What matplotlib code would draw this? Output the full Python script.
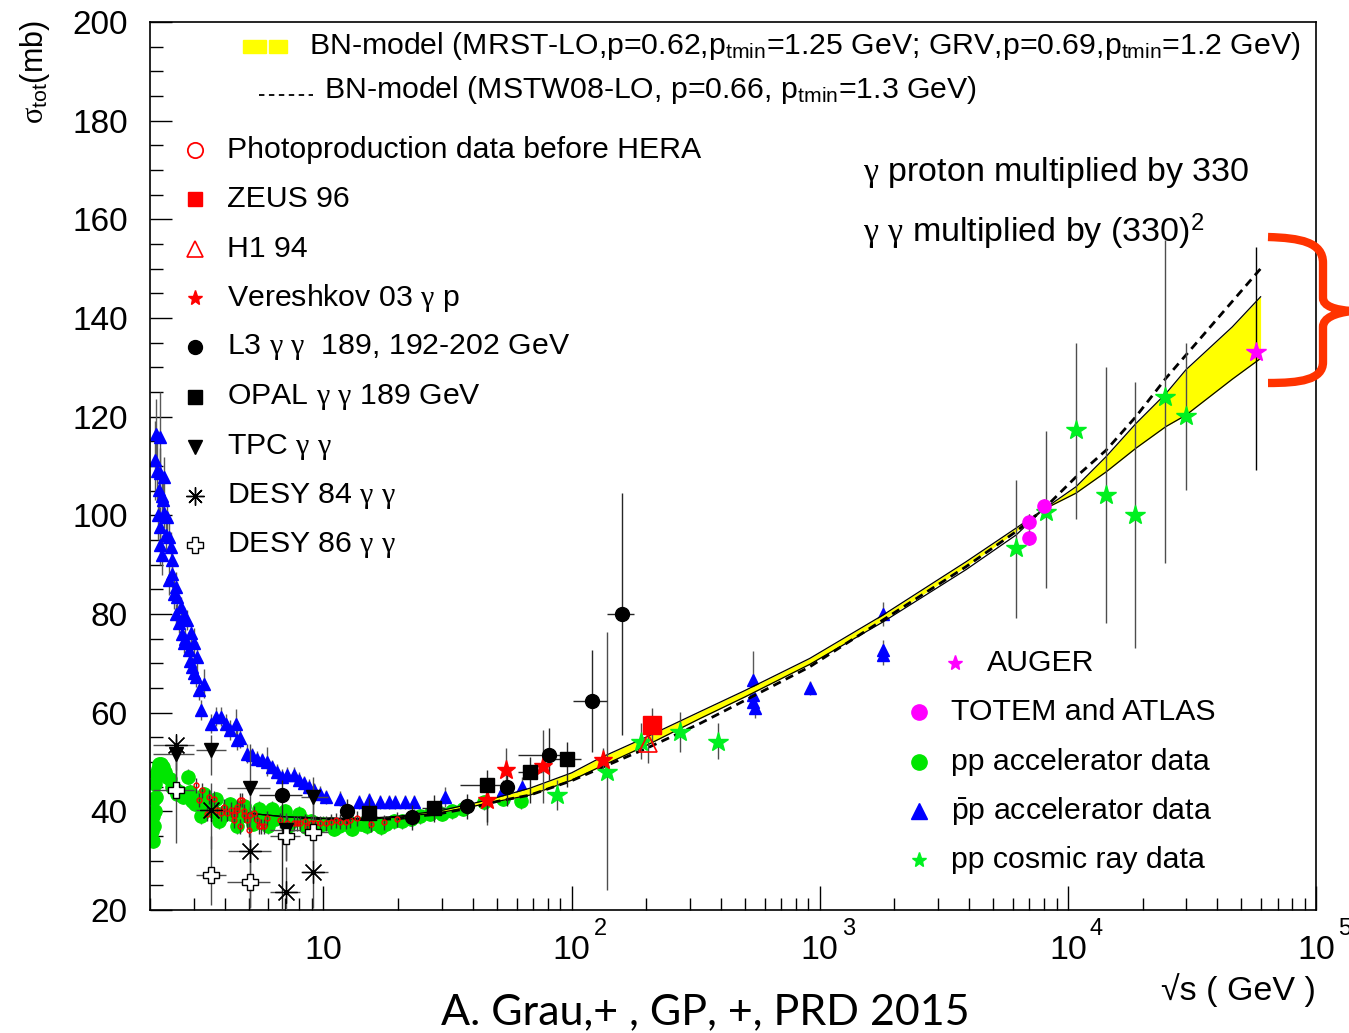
import numpy as np
import matplotlib.pyplot as plt
from matplotlib.path import Path
from matplotlib.patches import PathPatch, Rectangle
from matplotlib.ticker import LogLocator, NullFormatter
from matplotlib.transforms import blended_transform_factory, offset_copy

plt.rcParams['font.family'] = ['Liberation Sans', 'DejaVu Sans']
plt.rcParams['mathtext.fontset'] = 'custom'
plt.rcParams['mathtext.rm'] = 'Liberation Sans'
plt.rcParams['mathtext.it'] = 'Liberation Serif'
plt.rcParams['mathtext.bf'] = 'Liberation Sans:bold'

# --- BN model curves (upper / lower edge of the band, yellow fill bottom, MSTW08 dashed)
band_x = [5, 7, 10, 15, 20, 30, 40, 50, 68, 100, 130, 201, 329, 500, 912, 1800, 3890, 6180,
          7920, 10790, 14260, 18800, 24850, 29900, 46000, 59800]
band_hi = [39.6, 38.9, 38.6, 38.6, 39.0, 40.2, 41.6, 42.8, 44.7, 47.8, 50.8, 55.1, 60.2, 64.5,
           71.0, 79.8, 90.6, 97.4, 101.1, 105.8, 111.9, 118.6, 124.7, 129.5, 138.2, 144.3]
band_lo = [39.6, 38.9, 38.5, 38.4, 38.8, 39.8, 41.0, 42.0, 43.3, 46.3, 49.0, 53.4, 58.8, 63.2,
           69.8, 78.4, 89.0, 96.0, 101.1, 104.5, 108.8, 113.6, 118.0, 120.3, 127.6, 131.8]
fill_lo = [39.6, 38.9, 38.5, 38.4, 38.8, 39.8, 41.0, 42.0, 43.3, 46.3, 49.0, 53.4, 58.8, 63.2,
           69.8, 78.8, 89.6, 96.7, 101.1, 104.5, 108.8, 113.6, 118.0, 120.3, 127.6, 131.8]
mstw_x = [8, 10, 15, 20, 30, 40, 50, 68, 100, 130, 201, 329, 500, 912, 1800, 3890, 6180, 7920,
          10790, 14260, 18800, 24850, 59800]
mstw_y = [38.7, 38.5, 38.3, 38.5, 39.6, 40.8, 42.0, 43.3, 46.2, 48.7, 52.8, 57.8, 62.5, 69.3,
          78.8, 89.6, 96.7, 101.1, 107.8, 113.2, 120.0, 127.8, 150.0]

# --- pp accelerator data
pp_x = [2.04, 2.05, 2.06, 2.07, 2.08, 2.09, 2.10, 2.11, 2.12, 2.15, 2.18, 2.22, 2.26, 2.30,
        2.35, 2.40, 2.46, 2.52, 2.58, 2.65, 2.72, 2.85, 2.96, 3.05, 3.15, 3.25, 3.36, 3.48,
        3.60, 3.75, 3.90, 4.05, 4.25, 4.45, 4.65, 4.90, 5.15, 5.40, 5.70, 6.00, 6.35, 6.70,
        7.10, 7.50, 7.95, 8.40, 8.90, 9.40, 10.0, 10.7, 11.5, 12.3, 13.2, 14.2, 15.3, 16.5,
        17.8, 19.2, 20.8, 22.6, 24.6, 27.0, 30.0, 33.0, 36.5, 44.5, 52.8, 62.5,
        2.90, 3.30, 3.70, 4.20, 4.80, 5.50, 6.20, 7.00, 8.00, 3.20, 3.80, 4.50, 5.20, 6.00,
        7.20, 8.50, 9.50, 11.0, 13.0, 15.0, 17.0]
pp_y = [36.0, 34.0, 39.0, 37.0, 42.5, 40.0, 45.5, 43.0, 47.5, 48.5, 49.5, 49.5, 49.0, 48.0,
        47.0, 46.5, 45.0, 44.5, 43.5, 44.0, 43.0, 47.0, 42.0, 41.5, 42.0, 41.0, 40.5, 41.0,
        40.0, 39.5, 39.0, 40.0, 39.5, 39.0, 39.5, 39.0, 38.5, 39.0, 38.5, 39.0, 38.5, 39.0,
        38.5, 38.0, 38.5, 38.0, 38.0, 37.5, 37.5, 37.5, 37.0, 37.5, 37.5, 37.5, 37.5, 37.5,
        37.5, 38.0, 38.0, 38.5, 39.0, 39.5, 39.5, 40.0, 40.5, 41.8, 42.5, 42.0,
        44.0, 43.5, 42.5, 41.5, 41.0, 40.5, 40.5, 40.0, 39.5, 39.0, 38.0, 37.0, 37.5, 37.0,
        37.0, 36.8, 37.0, 36.5, 36.5, 37.0, 36.8]

# --- pbar-p accelerator data
pbp_x = [2.10, 2.12, 2.13, 2.15, 2.17, 2.20, 2.20, 2.20, 2.20, 2.23,
         2.24, 2.25, 2.28, 2.28, 2.32, 2.35, 2.39, 2.39, 2.42, 2.46,
         2.46, 2.50, 2.54, 2.55, 2.58, 2.62, 2.66, 2.70, 2.74, 2.74,
         2.78, 2.83, 2.87, 2.90, 2.92, 2.96, 3.00, 3.01, 3.06, 3.10,
         3.15, 3.20, 3.30, 3.51, 3.68, 3.85, 4.04, 4.22, 4.43, 4.50,
         4.63, 4.93, 5.16, 5.41, 5.66, 5.93, 6.21, 6.51, 6.82, 7.14,
         7.59, 7.95, 8.33, 8.73, 9.14, 9.72, 10.2, 11.7, 13.9, 15.2,
         16.9, 18.3, 19.5, 21.4, 23.1, 31.0, 53.1, 62.9, 537, 537,
         537, 546, 912, 1800, 1800, 1800]
pbp_y = [111.2, 116.5, 109.0, 100.0, 105.1, 115.9, 108.6, 97.7, 94.0, 104.0,
         92.0, 103.1, 107.8, 100.4, 96.0, 99.7, 95.7, 86.9, 93.6, 90.9,
         88.2, 84.0, 85.5, 80.0, 83.5, 78.1, 81.5, 76.0, 79.5, 74.1,
         75.0, 78.8, 72.7, 70.5, 76.1, 69.3, 68.0, 74.1, 67.3, 71.3,
         64.5, 60.5, 65.9, 57.8, 59.2, 59.2, 57.8, 56.5, 57.8, 54.4,
         54.8, 51.7, 51.4, 50.7, 50.4, 50.1, 49.0, 48.0, 47.0, 47.4,
         47.4, 46.4, 45.7, 45.0, 44.3, 43.6, 42.9, 42.6, 41.9, 42.3,
         41.9, 41.9, 41.9, 41.9, 41.9, 42.9, 44.3, 45.0, 66.6, 63.6,
         62.2, 61.0, 65.0, 80.0, 72.8, 71.7]
pbp_err = [8, 7, 6, 5, 5, 9, 5, 4, 4, 4,
           4, 4, 4, 3, 3, 3, 3, 3, 3, 3,
           3, 3, 3, 2, 3, 2, 2, 2, 2, 2,
           2, 2, 2, 2, 2, 2, 2, 3, 2, 3,
           2, 2, 3, 2, 2, 2, 2, 2, 3, 2,
           2, 2, 1.5, 1.5, 1.5, 3, 1.5, 1.5, 1.5, 1.5,
           1.5, 1.5, 1.5, 1.5, 1.5, 1.5, 1.5, 1.5, 1.5, 1.5,
           1.5, 1.5, 1.5, 1.5, 1.5, 2, 2, 2, 6, 2,
           2, 2, 1.5, 2.5, 2, 2]

# --- pp cosmic ray data
cr_x = [87.1, 138.6, 191, 273, 390, 6190, 8170, 10790, 14260, 18700, 24700, 30000]
cr_y = [43.3, 48.0, 54.1, 56.1, 54.1, 93.3, 100.7, 117.3, 104.1, 100.1, 124.0, 120.1]
cr_lo = [3.0, 24.0, 3.5, 4.0, 3.5, 14.1, 15.4, 18.1, 25.9, 27.0, 33.7, 15.0]
cr_hi = [3.0, 28.4, 3.8, 4.0, 3.8, 13.9, 16.3, 17.7, 26.0, 27.0, 31.8, 14.8]

# --- AUGER, TOTEM/ATLAS
auger_x, auger_y, auger_lo, auger_hi = [57100], [133.2], [24.0], [21.2]
lhc_x = [7000, 7000, 8040]
lhc_y = [98.7, 95.5, 101.9]

# --- photoproduction before HERA
phot_x = [3.06, 3.25, 3.15, 3.45, 3.62, 3.40, 3.73, 3.85, 3.97, 4.10, 4.23, 4.36, 4.36, 4.50,
          4.50, 4.63, 4.70, 4.78, 4.78, 4.63, 4.93, 5.00, 5.08, 5.24, 5.41, 5.50, 5.58, 5.75,
          5.93, 6.71, 7.14, 7.59, 7.80, 8.08, 8.40, 8.59, 8.90, 9.28, 9.72, 10.2, 10.7, 11.2,
          11.7, 12.3, 12.8, 13.7, 15.5, 17.5, 19.8]
phot_y = [45.3, 44.3, 42.3, 42.9, 42.6, 39.5, 40.3, 39.6, 40.9, 39.6, 40.3, 38.2, 39.3, 40.9,
          40.3, 42.3, 42.3, 39.3, 40.0, 37.0, 38.2, 36.2, 39.3, 39.6, 38.2, 37.0, 37.0, 37.0,
          38.6, 38.2, 37.6, 37.6, 37.6, 37.6, 38.0, 36.9, 37.6, 37.6, 37.6, 37.6, 37.9, 38.2,
          37.9, 37.9, 38.2, 38.6, 37.4, 37.8, 38.4]

# --- HERA and Vereshkov
zeus_x, zeus_y, zeus_err = [210], [57.5], [3.5]
h1_x, h1_y, h1_err = [203], [53.8], [4.0]
ver_x = [45.5, 54.3, 76.6, 134]
ver_y = [42.3, 48.4, 49.2, 50.4]
ver_lo = [5.0, 4.5, 7.5, 2.5]
ver_hi = [3.5, 4.5, 7.3, 2.5]

# --- gamma gamma
l3_x = [6.82, 12.5, 22.7, 37.9, 54.9, 80.9, 121.3, 160]
l3_y = [43.3, 40.0, 38.8, 41.0, 45.0, 51.4, 62.4, 80.0]
l3_lo = [23.3, 2.5, 2.5, 2.5, 4.0, 5.0, 10.3, 24.5]
l3_hi = [3.0, 2.5, 2.5, 2.5, 4.0, 5.5, 10.3, 24.5]
l3_xlo = [1.3, 0, 0, 0, 0, 20, 20, 21]
l3_xhi = [1.4, 0, 0, 0, 0, 15, 18, 19]
opal_x = [15.2, 27.8, 45.5, 68.0, 95.6]
opal_y = [39.7, 40.6, 45.3, 48.0, 50.7]
opal_lo = [3.0, 2.7, 7.5, 6.3, 5.7]
opal_hi = [3.0, 2.7, 3.1, 3.0, 3.3]
opal_xlo = [0, 2.8, 10, 7, 16]
opal_xhi = [0, 3.0, 6, 8, 14]
tpc_x = [2.54, 3.53, 5.05, 7.08, 9.1]
tpc_y = [51.7, 52.4, 44.7, 36.2, 42.9]
tpc_lo = [5, 5, 5, 6, 4]
tpc_hi = [3, 3, 9, 3, 4]
tpc_xlo = [0.48, 0.47, 0.95, 1.0, 1.0]
tpc_xhi = [0.46, 0.51, 1.05, 1.0, 1.3]
d84_x = [2.54, 3.53, 5.08, 7.08, 9.1]
d84_y = [53.4, 40.3, 32.0, 23.7, 27.8]
d84_lo = [5, 8, 11.5, 3.7, 7.3]
d84_hi = [2, 5.4, 8, 5, 7]
d84_xlo = [0.48, 0.47, 0.95, 1.0, 1.0]
d84_xhi = [0.46, 0.51, 1.05, 1.0, 1.3]
d86_x = [2.54, 3.53, 5.05, 7.08, 9.1]
d86_y = [44.4, 27.0, 25.7, 34.9, 35.9]
d86_lo = [10.8, 6, 5, 5, 6]
d86_hi = [8, 8, 10, 4.7, 6]
d86_xlo = [0.48, 0.47, 0.95, 1.0, 1.0]
d86_xhi = [0.46, 0.51, 1.05, 1.0, 1.3]

x_decades = [10, 100, 1000, 10000, 100000]
x_exps = ['', '2', '3', '4', '5']

W, H = 1349, 1033
fig = plt.figure(figsize=(W / 100, H / 100), dpi=100)
ax = fig.add_axes([150 / W, 1 - 910 / H, 1166 / W, 888 / H])
ax.set_xscale('log')
ax.set_xlim(2, 1e5)
ax.set_ylim(20, 200)


def series(x, y, lo, hi, xlo=None, xhi=None, ecolor='0.35', z=4, **kw):
    xerr = None if xlo is None else [xlo, xhi]
    ax.errorbar(x, y, yerr=[lo, hi], xerr=xerr, fmt='none', ecolor=ecolor,
                elinewidth=1.0, capsize=0, zorder=z - 0.5)
    ax.plot(x, y, ls='none', zorder=z, **kw)


n = len(pp_x)
series(pp_x, pp_y, [1.5] * n, [1.5] * n, z=2, marker='o', ms=9.5, color='#00e600', mec='#00e600')
series(pbp_x, pbp_y, pbp_err, pbp_err, z=2.2, marker='^', ms=9, color='#0000ff', mec='#0000ff')

# model band and dashed line
ax.fill_between(band_x, fill_lo, band_hi, color='#ffff00', lw=0, zorder=3)
ax.plot(band_x, band_hi, color='k', lw=0.9, zorder=3.1)
ax.plot(band_x, band_lo, color='k', lw=0.9, zorder=3.1)
ax.plot(mstw_x, mstw_y, color='k', lw=2, ls=(0, (3, 2)), zorder=3.2)

n = len(phot_x)
series(phot_x, phot_y, [1.5] * n, [1.5] * n, ecolor='0.2', z=4, marker='o', ms=3.5,
       mfc='none', mec='red', mew=1)
series(cr_x, cr_y, cr_lo, cr_hi, ecolor='0.3', z=4, marker='*', ms=15, color='#00f020',
       mec='#00f020')
series(auger_x, auger_y, auger_lo, auger_hi, ecolor='k', z=4.2, marker='*', ms=15,
       color='#ff00ff', mec='#ff00ff')
series(lhc_x, lhc_y, [1.5] * 3, [1.5] * 3, ecolor='k', z=4.2, marker='o', ms=9.5,
       color='#ff00ff', mec='#ff00ff')
series(zeus_x, zeus_y, zeus_err, zeus_err, ecolor='0.3', z=4.3, marker='s', ms=13,
       color='red', mec='red')
series(h1_x, h1_y, h1_err, h1_err, ecolor='0.3', z=4.3, marker='^', ms=13, mfc='none',
       mec='red', mew=1.2)
series(ver_x, ver_y, ver_lo, ver_hi, ecolor='0.3', z=4.3, marker='*', ms=14, color='red',
       mec='red')
series(l3_x, l3_y, l3_lo, l3_hi, l3_xlo, l3_xhi, ecolor='0.15', z=4.4, marker='o', ms=10,
       color='k')
series(opal_x, opal_y, opal_lo, opal_hi, opal_xlo, opal_xhi, ecolor='0.15', z=4.4,
       marker='s', ms=9.5, color='k')
series(tpc_x, tpc_y, tpc_lo, tpc_hi, tpc_xlo, tpc_xhi, ecolor='0.3', z=4.4, marker='v',
       ms=10, color='k')
series(d84_x, d84_y, d84_lo, d84_hi, d84_xlo, d84_xhi, ecolor='0.3', z=4.4,
       marker=(8, 2, 0), ms=16, color='k', mew=0.9)
series(d86_x, d86_y, d86_lo, d86_hi, d86_xlo, d86_xhi, ecolor='0.3', z=4.4, marker='P',
       ms=11, mfc='white', mec='k', mew=1)

# axes styling (ROOT look)
for s in ax.spines.values():
    s.set_linewidth(1.2)
ax.set_yticks(np.arange(20, 201, 20))
ax.set_yticks(np.arange(20, 201, 5), minor=True)
ax.xaxis.set_major_locator(LogLocator(base=10, numticks=20))
ax.xaxis.set_minor_locator(LogLocator(base=10, subs=np.arange(2, 10), numticks=100))
ax.xaxis.set_minor_formatter(NullFormatter())
ax.tick_params(which='both', direction='in', top=False, right=False, width=1)
ax.tick_params(axis='y', which='major', length=16, labelsize=24, pad=16)
ax.tick_params(axis='y', which='minor', length=9)
ax.tick_params(axis='x', which='major', length=17, labelbottom=False)
ax.tick_params(axis='x', which='minor', length=9)

trans = blended_transform_factory(ax.transData, ax.transAxes)
for v, e in zip(x_decades, x_exps):
    ax.text(v, -0.046, '10', transform=trans, ha='center', va='center', fontsize=24.5,
            clip_on=False)
    if e:
        ax.text(v, -0.0215, e, ha='left', va='center', fontsize=17, clip_on=False,
                transform=offset_copy(trans, fig=fig, x=22, y=0, units='dots'))

fig.text(1316 / W, 1 - 990 / H, '\u221as ( GeV )', ha='right', va='center', fontsize=24.5)
fig.text(35 / W, 1 - 20 / H, r'$\sigma_{\mathrm{tot}}$(mb)', rotation=90, ha='center',
         va='top', fontsize=22)


def fx(px):
    return px / W


def fy(py):
    return 1 - py / H


# top legend
fig.patches.append(Rectangle((fx(243), fy(53)), 23 / W, 13 / H, color='#ffff00',
                             transform=fig.transFigure))
fig.patches.append(Rectangle((fx(269), fy(53)), 18 / W, 13 / H, color='#ffff00',
                             transform=fig.transFigure))
fig.text(fx(309), fy(46), r'BN-model (MRST-LO,p=0.62,p$_{\mathrm{tmin}}$=1.25 GeV; '
         r'GRV,p=0.69,p$_{\mathrm{tmin}}$=1.2 GeV)', ha='left', va='center', fontsize=21.8)
fig.add_artist(plt.Line2D([fx(259), fx(313)], [fy(95), fy(95)], color='k', lw=1.3,
                          ls=(0, (3, 2.5)), transform=fig.transFigure))
fig.text(fx(324), fy(90), r'BN-model (MSTW08-LO, p=0.66, p$_{\mathrm{tmin}}$=1.3 GeV)',
         ha='left', va='center', fontsize=21.8)

# left legend
left_rows = [
    (dict(marker='o', ms=11, mfc='none', mec='red', mew=1.3), 'Photoproduction data before HERA'),
    (dict(marker='s', ms=10, color='red'), 'ZEUS 96'),
    (dict(marker='^', ms=11, mfc='none', mec='red', mew=1.2), 'H1 94'),
    (dict(marker='*', ms=11, color='red'), r'Vereshkov 03 $\gamma$ p'),
    (dict(marker='o', ms=10, color='k'), r'L3 $\gamma$ $\gamma$  189, 192-202 GeV'),
    (dict(marker='s', ms=10, color='k'), r'OPAL $\gamma$ $\gamma$ 189 GeV'),
    (dict(marker='v', ms=10, color='k'), r'TPC $\gamma$ $\gamma$'),
    (dict(marker=(8, 2, 0), ms=13, color='k', mew=1), r'DESY 84 $\gamma$ $\gamma$'),
    (dict(marker='P', ms=11, mfc='white', mec='k', mew=1), r'DESY 86 $\gamma$ $\gamma$'),
]
left_py = [150, 199, 249, 298, 347, 397, 447, 496, 545]
for (mk, lab), py in zip(left_rows, left_py):
    fig.add_artist(plt.Line2D([fx(195)], [fy(py)], ls='none', transform=fig.transFigure, **mk))
    fig.text(fx(227), fy(py), lab, ha='left', va='center', fontsize=21.8)

# right legend
right_rows = [
    (955, 987, dict(marker='*', ms=11, color='#ff00ff'), 'AUGER'),
    (919, 951, dict(marker='o', ms=11, color='#ff00ff'), 'TOTEM and ATLAS'),
    (919, 951, dict(marker='o', ms=11, color='#00e600'), 'pp accelerator data'),
    (919, 951, dict(marker='^', ms=11, color='#0000ff'), r'$\mathrm{\bar{p}}$p accelerator data'),
    (919, 951, dict(marker='*', ms=11, color='#00f020'), 'pp cosmic ray data'),
]
right_py = [663, 712, 762, 811, 860]
for (mx, tx, mk, lab), py in zip(right_rows, right_py):
    fig.add_artist(plt.Line2D([fx(mx)], [fy(py)], ls='none', transform=fig.transFigure, **mk))
    fig.text(fx(tx), fy(py), lab, ha='left', va='center', fontsize=21.8)

# annotations
fig.text(fx(863), fy(172), r'$\gamma$ proton multiplied by 330', ha='left', va='center',
         fontsize=24.5)
fig.text(fx(863), fy(232), r'$\gamma$ $\gamma$ multiplied by (330)$^{2}$', ha='left',
         va='center', fontsize=24.5)
fig.text(fx(705), fy(1012), 'A. Grau,+ , GP, +, PRD 2015', ha='center', va='center',
         fontsize=31, family=['Lato', 'DejaVu Sans'])

# red brace on the right
bx = [1268, 1300, 1323, 1323, 1323, 1323, 1335, 1352, 1335, 1323, 1323, 1323, 1323, 1300, 1268]
by = [237, 238, 242, 263, 298, 306, 310, 311, 313, 318, 327, 362, 380, 383, 383]
codes = [Path.MOVETO, Path.CURVE4, Path.CURVE4, Path.CURVE4, Path.LINETO, Path.CURVE4,
         Path.CURVE4, Path.CURVE4, Path.CURVE4, Path.CURVE4, Path.CURVE4, Path.LINETO,
         Path.CURVE4, Path.CURVE4, Path.CURVE4]
brace = Path([(fx(a), fy(b)) for a, b in zip(bx, by)], codes)
fig.patches.append(PathPatch(brace, fill=False, ec='#ff3300', lw=6, capstyle='butt',
                             transform=fig.transFigure))

fig.savefig('out.png', dpi=100)
